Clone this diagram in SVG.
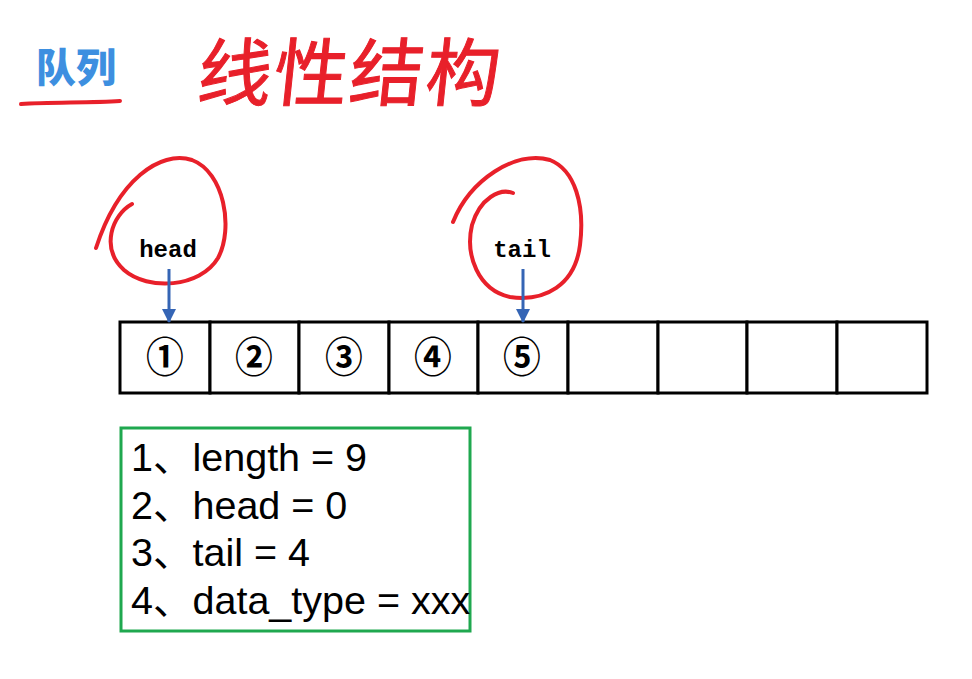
<svg xmlns="http://www.w3.org/2000/svg" width="972" height="679" viewBox="0 0 972 679">
<style>
.ink{fill:none;stroke:#e8202a;stroke-width:4;stroke-linecap:round;stroke-linejoin:round}
.cell{fill:#fff;stroke:#000;stroke-width:3}
.num{font-family:"DejaVu Serif","Noto Sans CJK SC",serif;font-size:36px;font-weight:bold;text-anchor:middle;fill:#000}
.ptr{font-family:"Liberation Mono",monospace;font-weight:bold;font-size:24px;fill:#000;text-anchor:middle}
.info{font-family:"Liberation Sans","Noto Sans CJK SC",sans-serif;font-size:39.5px;fill:#000}
.arr{stroke:#3565b5;stroke-width:3;fill:none}
</style>
<defs>
<marker id="ah" viewBox="0 0 14 14" refX="13" refY="7" markerWidth="14" markerHeight="14" markerUnits="userSpaceOnUse" orient="auto">
<path d="M0,0 L14,7 L0,14 Z" fill="#3565b5"/>
</marker>
</defs>
<rect width="972" height="679" fill="#fff"/>
<g id="title">
<text x="36" y="82" font-family="Noto Sans CJK SC,sans-serif" font-weight="900" font-size="40" fill="#3d8fe0">队列</text>
<path class="ink" d="M21,104 C50,102 90,103 120,101"/>
</g>
<g id="handwriting">
<text x="196" y="100" font-family="Noto Sans CJK SC,sans-serif" font-size="74" fill="#e8202a" stroke="#e8202a" stroke-width="1" transform="skewX(-6) translate(10,0)" letter-spacing="2">线性结构</text>
</g>
<g id="array">
<rect class="cell" x="120" y="322" width="90" height="71"/>
<rect class="cell" x="210" y="322" width="89" height="71"/>
<rect class="cell" x="299" y="322" width="90" height="71"/>
<rect class="cell" x="389" y="322" width="89" height="71"/>
<rect class="cell" x="478" y="322" width="90" height="71"/>
<rect class="cell" x="568" y="322" width="90" height="71"/>
<rect class="cell" x="658" y="322" width="89" height="71"/>
<rect class="cell" x="747" y="322" width="90" height="71"/>
<rect class="cell" x="837" y="322" width="90" height="71"/>
<text class="num" transform="translate(165,358) scale(1.05,1.15)" y="12">①</text>
<text class="num" transform="translate(254,358) scale(1.05,1.15)" y="12">②</text>
<text class="num" transform="translate(344,358) scale(1.05,1.15)" y="12">③</text>
<text class="num" transform="translate(433,358) scale(1.05,1.15)" y="12">④</text>
<text class="num" transform="translate(522,358) scale(1.05,1.15)" y="12">⑤</text>
</g>
<g id="head">
<text class="ptr" x="168" y="257">head</text>
<path class="ink" d="M132,204 C112,215 100,248 124,270 C148,291 200,288 218,258 C234,228 224,172 192,160 C160,150 118,180 96,248"/>
</g>
<g id="tail">
<text class="ptr" x="522" y="257">tail</text>
<path class="ink" d="M513,193 C500,188 480,198 472,225 C465,255 478,290 510,297 C545,302 575,285 580,245 C585,205 575,170 550,160 C515,150 470,180 453,222"/>
</g>
<g id="connectors">
<line class="arr" x1="169" y1="269" x2="169" y2="322" marker-end="url(#ah)"/>
<line class="arr" x1="523" y1="269" x2="523" y2="322" marker-end="url(#ah)"/>
</g>
<g id="infobox">
<rect x="121" y="428" width="349" height="203" fill="none" stroke="#1fa84f" stroke-width="3"/>
<text class="info" x="131" y="471">1、length = 9</text>
<text class="info" x="131" y="519">2、head = 0</text>
<text class="info" x="131" y="566">3、tail = 4</text>
<text class="info" x="131" y="614">4、data_type = xxx</text>
</g>
</svg>
